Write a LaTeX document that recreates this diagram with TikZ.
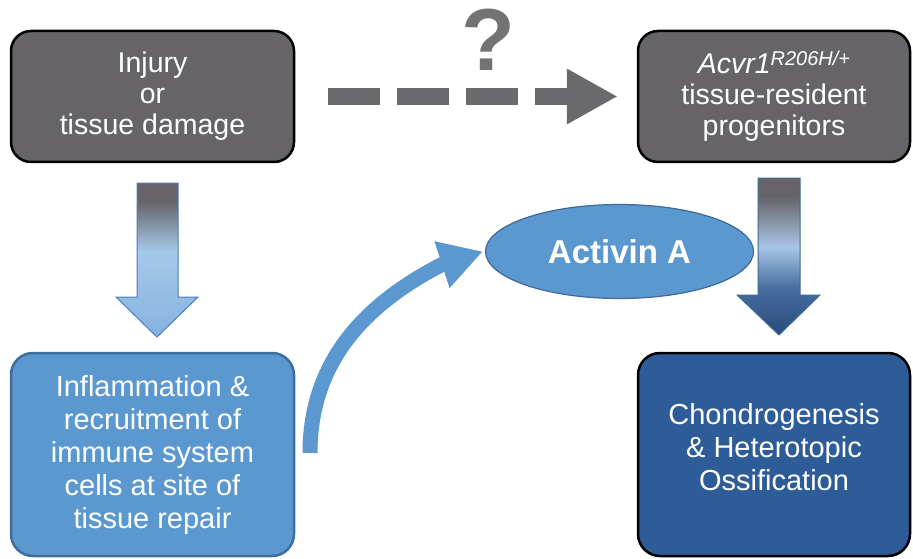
\documentclass[tikz,border=0pt]{standalone}
\usepackage{fontspec}
\setmainfont{Liberation Sans}
\usetikzlibrary{shapes.geometric,arrows.meta}
\definecolor{grA}{RGB}{102,100,104}
\definecolor{dashgray}{RGB}{106,105,108}
\definecolor{qgray}{RGB}{115,114,116}
\definecolor{lbA}{RGB}{165,200,233}
\definecolor{lbB}{RGB}{132,179,224}
\definecolor{lbC}{RGB}{168,197,230}
\definecolor{dbA}{RGB}{70,110,160}
\definecolor{dbB}{RGB}{42,74,122}
\definecolor{midblue}{RGB}{91,152,208}
\definecolor{midborder}{RGB}{62,110,156}
\definecolor{deepblue}{RGB}{46,92,152}
\definecolor{arrborderL}{RGB}{74,126,184}
\definecolor{arrborderR}{RGB}{62,106,150}
\pgfdeclareverticalshading{larrowshade}{100bp}{color(0bp)=(lbB); color(25bp)=(lbB); color(53bp)=(lbA); color(69bp)=(grA); color(75bp)=(grA); color(100bp)=(grA)}
\pgfdeclareverticalshading{rarrowshade}{100bp}{color(0bp)=(dbB); color(25bp)=(dbB); color(40bp)=(dbA); color(53bp)=(lbC); color(69bp)=(grA); color(75bp)=(grA); color(100bp)=(grA)}
\begin{document}
\begin{tikzpicture}[x=1pt,y=-1pt,
  boxtext/.style={text=white, align=center, font=\fontsize{28.5}{31}\selectfont, inner sep=0pt},
  graybox/.style={draw=black, line width=2.5pt, fill=grA, rounded corners=20pt, minimum width=283pt, minimum height=131pt},
  lbbox/.style={draw=midborder, line width=2.5pt, fill=midblue, rounded corners=22pt, minimum width=283pt, minimum height=203pt},
  dbbox/.style={draw=black, line width=2.5pt, fill=deepblue, rounded corners=22pt, minimum width=272pt, minimum height=203pt},
  ovalnode/.style={ellipse, draw=arrborderR, line width=1.2pt, fill=midblue, minimum width=268pt, minimum height=94pt, inner sep=0pt, text=white, font=\fontsize{33}{36}\selectfont\bfseries},
  curvedarrow/.style={line width=15pt, draw=midblue, -{Triangle[length=43pt,width=46pt]}},
  dasharrow/.style={line width=17pt, draw=dashgray, dash pattern=on 52pt off 17pt, -{Triangle[length=51pt,width=52pt]}}
]
\useasboundingbox (0,0) rectangle (913,559);

% boxes
\node[graybox, boxtext] (injury) at (152.5,96.5) {Injury\\or\\tissue damage};
\node[graybox, boxtext, minimum width=272pt] (acvr) at (774,96.5)
  {\textit{Acvr1}\raisebox{8pt}{\fontsize{20}{20}\selectfont\itshape R206H/+}\\tissue-resident\\progenitors};
\node[lbbox, boxtext, font=\fontsize{29}{33}\selectfont] (infl) at (152.5,454.5)
  {Inflammation \&\\recruitment of\\immune system\\cells at site of\\tissue repair};
\node[dbbox] (chondro) at (774,454.5) {};
\node[boxtext, font=\fontsize{29}{33}\selectfont] (chondrotxt) at ([yshift=7pt]chondro.center)
  {Chondrogenesis\\\& Heterotopic\\Ossification};
\node[ovalnode] (activin) at (619.5,251.5) {Activin A};

% question mark
\node[font=\fontsize{88}{88}\selectfont\bfseries, text=qgray, inner sep=0pt] (qmark) at (488.5,40) {?};

% dashed arrow
\coordinate (dstart) at (328,96.5);
\draw[dasharrow] (dstart) -- ([xshift=-19pt]acvr.west);

% curved arrow
\coordinate (cstart) at (310,453);
\coordinate (cbend) at (441,265);
\draw[curvedarrow] (cstart) .. controls (310,373) and (352,311) .. (cbend) -- ([xshift=-2pt]activin.west);

% block arrows
\path[shading=larrowshade, draw=arrborderL, line width=1pt]
  (137,183) -- (178,183) -- (178,297) -- (198,297) -- (157,337) -- (116,297) -- (137,297) -- cycle;
\path[shading=rarrowshade, draw=arrborderR, line width=1pt]
  (758,178) -- (800,178) -- (800,295) -- (820,295) -- (779,335) -- (737,295) -- (758,295) -- cycle;
\end{tikzpicture}
\end{document}
